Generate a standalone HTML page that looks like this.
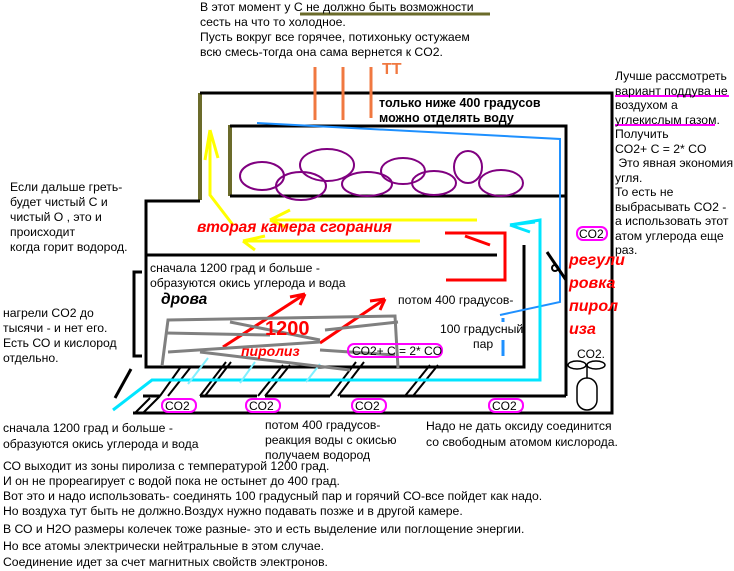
<!DOCTYPE html>
<html><head><meta charset="utf-8"><style>
html,body{margin:0;padding:0;background:#fff;}
body{width:734px;height:566px;position:relative;overflow:hidden;font-family:"Liberation Sans","DejaVu Sans",sans-serif;font-size:12.2px;color:#000;}
.t{position:absolute;line-height:15px;white-space:nowrap;}
svg{position:absolute;left:0;top:0;}
</style></head><body>
<svg width="734" height="566" viewBox="0 0 734 566">
<g fill="none" stroke-linecap="butt">
<line x1="300" y1="14" x2="490" y2="14" stroke="#6b6b2a" stroke-width="3"/>
<line x1="200" y1="93" x2="200" y2="200" stroke="#6b6b2a" stroke-width="4"/>
<line x1="230" y1="125" x2="230" y2="196" stroke="#6b6b2a" stroke-width="4"/>
<path d="M200 93 H612 V413 H133" stroke="#000" stroke-width="3"/>
<path d="M230 126 H566 V196 H230" stroke="#000" stroke-width="3"/>
<path d="M566 196 V396" stroke="#000" stroke-width="3"/>
<path d="M200 201 H146 V367 H524 V245" stroke="#000" stroke-width="3"/>
<line x1="146" y1="255" x2="497" y2="255" stroke="#000" stroke-width="3"/>
<path d="M142 272 H134 V356 H142" stroke="#000" stroke-width="3"/>
<path d="M131 369 L115 398" stroke="#000" stroke-width="3"/>
<g stroke="#000" stroke-width="3">
<line x1="143" y1="396" x2="160" y2="396"/><line x1="200" y1="396" x2="257" y2="396"/>
<line x1="265" y1="396" x2="330" y2="396"/><line x1="340" y1="396" x2="566" y2="396"/>
</g>
<g stroke="#000" stroke-width="2">
<line x1="160" y1="396" x2="180" y2="368"/><line x1="168" y1="396" x2="190" y2="368"/>
<line x1="200" y1="396" x2="226" y2="362"/><line x1="205" y1="396" x2="231" y2="362"/>
<line x1="258" y1="396" x2="283" y2="365"/><line x1="265" y1="396" x2="290" y2="365"/>
<line x1="330" y1="396" x2="356" y2="362"/><line x1="338" y1="396" x2="364" y2="362"/>
<line x1="405" y1="396" x2="430" y2="365"/><line x1="413" y1="396" x2="438" y2="365"/>
<line x1="150" y1="398" x2="135" y2="413"/><line x1="160" y1="396" x2="143" y2="413"/>
</g>
<g stroke="#800080" stroke-width="2">
<ellipse cx="262" cy="176" rx="22" ry="14"/><ellipse cx="301" cy="186" rx="25" ry="14"/>
<ellipse cx="327" cy="165" rx="27" ry="16"/><ellipse cx="367" cy="184" rx="25" ry="12"/>
<ellipse cx="403" cy="171" rx="22" ry="13"/><ellipse cx="434" cy="183" rx="22" ry="12"/>
<ellipse cx="468" cy="167" rx="14" ry="16"/><ellipse cx="501" cy="183" rx="22" ry="13"/>
</g>
<g stroke="#f07840" stroke-width="3">
<line x1="315" y1="67" x2="315" y2="120"/><line x1="343" y1="67" x2="343" y2="120"/><line x1="371" y1="67" x2="371" y2="118"/>
</g>
<path d="M257 123 L560 139 V302 L500 315" stroke="#1e90ff" stroke-width="2"/>
<path d="M503 318 V322 M503 340 V356" stroke="#1e90ff" stroke-width="3"/>
<path d="M510 225 L540 220 V380 H152 L113 410" stroke="#00e5ff" stroke-width="3"/>
<path d="M510 225 L530 232 M510 225 L535 222" stroke="#00e5ff" stroke-width="3"/>
<g stroke="#80f0ff" stroke-width="2"><line x1="188" y1="384" x2="208" y2="358"/><line x1="240" y1="383" x2="255" y2="362"/><line x1="306" y1="382" x2="320" y2="364"/></g>
<g stroke="#ffff00" stroke-width="3">
<path d="M233 225 L210 195 V130 M210 130 L205 160 M210 130 L218 158"/>
<line x1="270" y1="220" x2="477" y2="220"/><path d="M270 220 L290 210 M270 220 L288 228"/>
<line x1="243" y1="241" x2="420" y2="241"/><path d="M243 241 L265 236 M243 241 L255 250"/>
</g>
<g stroke="#ff0000" stroke-width="3">
<path d="M445 233 H505 V280 H446"/><path d="M465 236 L490 245"/>
<line x1="223" y1="347" x2="305" y2="294"/><path d="M305 294 L290 297 M305 294 L300 305"/>
<line x1="320" y1="343" x2="385" y2="299"/><path d="M385 299 L370 301 M385 299 L380 310"/>
</g>
<g stroke="#808080" stroke-width="3">
<path d="M162 366 L168 320 L395 316 L398 368"/>
<line x1="166" y1="333" x2="270" y2="335"/><line x1="168" y1="352" x2="320" y2="342"/>
<line x1="230" y1="322" x2="320" y2="340"/><line x1="320" y1="350" x2="395" y2="355"/>
<line x1="325" y1="330" x2="398" y2="322"/><line x1="200" y1="352" x2="350" y2="370"/>
</g>
<path d="M547 252 L566 280" stroke="#000" stroke-width="3"/><circle cx="555" cy="268" r="3" stroke="#000" stroke-width="2"/>
<g stroke="#000" stroke-width="1.5">
<ellipse cx="577" cy="365" rx="9" ry="4"/><ellipse cx="596" cy="365" rx="9" ry="4"/>
<line x1="587" y1="365" x2="587" y2="378"/><rect x="577" y="378" width="20" height="32" rx="10"/>
</g>
<g stroke="#ff00ff" stroke-width="2">
<line x1="615" y1="96" x2="729" y2="96"/><line x1="615" y1="125" x2="715" y2="125"/>
<rect x="577" y="227" width="30" height="13" rx="6"/>
<rect x="348" y="344" width="94" height="13" rx="6"/>
<rect x="162" y="399" width="34" height="13" rx="6" fill="#fff"/><rect x="246" y="399" width="34" height="13" rx="6" fill="#fff"/>
<rect x="352" y="399" width="34" height="13" rx="6" fill="#fff"/><rect x="489" y="399" width="34" height="13" rx="6" fill="#fff"/>
</g>
</g>
<g font-family="Liberation Sans,sans-serif" font-size="12" fill="#000">
<text x="579" y="238">CO2</text><text x="352" y="355">CO2+ C = 2* CO</text>
<text x="165" y="410">CO2</text><text x="249" y="410">CO2</text><text x="355" y="410">CO2</text><text x="492" y="410">CO2</text>
<text x="577" y="358">CO2.</text>
</g>
</svg>
<div class="t" style="left:200px;top:0px">В этот момент у С не должно быть возможности<br>сесть на что то холодное.<br>Пусть вокруг все горячее, потихоньку остужаем<br>всю смесь-тогда она сама вернется к CO2.</div>
<div class="t" style="left:382px;top:62px;color:#f07840;font-size:16px;font-weight:bold">TT</div>
<div class="t" style="left:379px;top:96px;font-weight:bold;font-size:12.5px">только ниже 400 градусов<br>можно отделять воду</div>
<div class="t" style="left:615px;top:69px;line-height:14.5px">Лучше рассмотреть<br>вариант поддува не<br>воздухом а<br>углекислым газом.<br>Получить<br>CO2+ C = 2* CO<br>&nbsp;Это явная экономия<br>угля.<br>То есть не<br>выбрасывать CO2 -<br>а использовать этот<br>атом углерода еще<br>раз.</div>
<div class="t" style="left:10px;top:180px">Если дальше греть-<br>будет чистый С и<br>чистый О , это и<br>происходит<br>когда горит водород.</div>
<div class="t" style="left:197px;top:220px;color:#f00;font-weight:bold;font-style:italic;font-size:15.5px">вторая камера сгорания</div>
<div class="t" style="left:569px;top:249px;color:#f00;font-weight:bold;font-style:italic;font-size:16px;line-height:23px">регули<br>ровка<br>пирол<br>иза</div>
<div class="t" style="left:150px;top:261px">сначала 1200 град и больше -<br>образуются окись углерода и вода</div>
<div class="t" style="left:161px;top:292px;font-weight:bold;font-style:italic;font-size:15.5px">дрова</div>
<div class="t" style="left:398px;top:293px">потом 400 градусов-</div>
<div class="t" style="left:440px;top:322px">100 градусный</div>
<div class="t" style="left:473px;top:337px">пар</div>
<div class="t" style="left:265px;top:322px;color:#f00;font-weight:bold;font-size:20px">1200</div>
<div class="t" style="left:241px;top:344px;color:#f00;font-weight:bold;font-style:italic;font-size:14px">пиролиз</div>
<div class="t" style="left:3px;top:306px">нагрели CO2 до<br>тысячи - и нет его.<br>Есть СО и кислород<br>отдельно.</div>
<div class="t" style="left:3px;top:420px;line-height:16px">сначала 1200 град и больше -<br>образуются окись углерода и вода</div>
<div class="t" style="left:265px;top:418px">потом 400 градусов-<br>реакция воды с окисью<br>получаем водород</div>
<div class="t" style="left:426px;top:418px;line-height:16px">Надо не дать оксиду соединится<br>со свободным атомом кислорода.</div>
<div class="t" style="left:3px;top:459px">СО выходит из зоны пиролиза с температурой 1200 град.<br>И он не прореагирует с водой пока не остынет до 400 град.<br>Вот это и надо использовать- соединять 100 градусный пар и горячий СО-все пойдет как надо.<br>Но воздуха тут быть не должно.Воздух нужно подавать позже и в другой камере.</div>
<div class="t" style="left:3px;top:521px;line-height:16.5px">В СО и Н2О размеры колечек тоже разные- это и есть выделение или поглощение энергии.<br>Но все атомы электрически нейтральные в этом случае.<br>Соединение идет за счет магнитных свойств электронов.</div>
</body></html>
